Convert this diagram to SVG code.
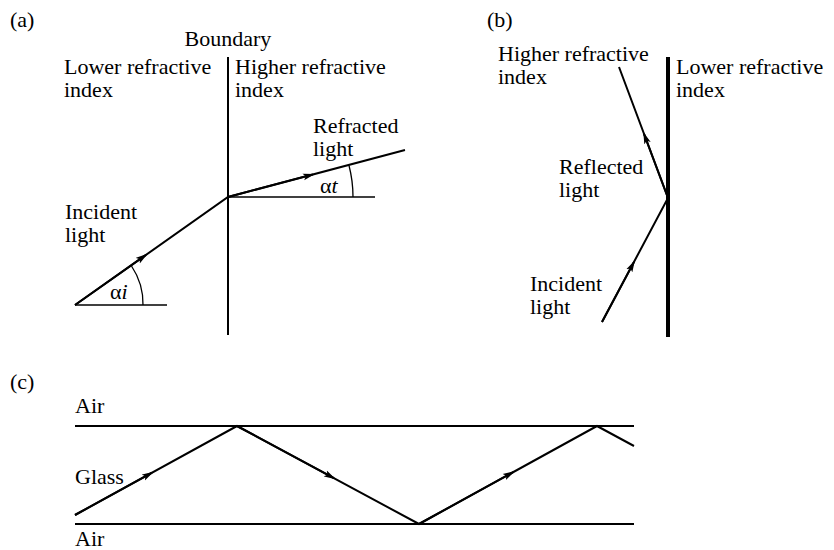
<svg xmlns="http://www.w3.org/2000/svg" width="834" height="550" viewBox="0 0 834 550">
<defs>
<marker id="ah" viewBox="0 0 12 8" refX="10" refY="4" markerWidth="12" markerHeight="8" markerUnits="userSpaceOnUse" orient="auto">
<path d="M0,0.6 L12,4 L0,7.4 L2.5,4 Z" fill="#000"/>
</marker>
<style>
text{font-family:"Liberation Serif","Times New Roman",serif;font-size:22px;fill:#000}
.ray{stroke:#000;stroke-width:2;fill:none}
.thin{stroke:#000;stroke-width:1.3;fill:none}
</style>
</defs>
<rect width="834" height="550" fill="#fff"/>
<g id="panel-a" font-family="Liberation Serif, serif">
<text x="10" y="27">(a)</text>
<text x="228" y="46" text-anchor="middle">Boundary</text>
<line class="ray" x1="228" y1="57" x2="228" y2="335"/>
<text x="64" y="74">Lower refractive</text>
<text x="64" y="97">index</text>
<text x="235" y="74">Higher refractive</text>
<text x="235" y="97">index</text>
<text x="65" y="219">Incident</text>
<text x="65" y="242">light</text>
<text x="313" y="133">Refracted</text>
<text x="313" y="156">light</text>
<line class="thin" x1="75" y1="305" x2="167" y2="305"/>
<line class="thin" x1="228" y1="197" x2="375" y2="197"/>
<path class="thin" d="M131.5,266 A68,68 0 0 1 143,305"/>
<path class="thin" d="M349,165.5 A125,125 0 0 1 353,197"/>
<text x="110" y="299">α<tspan font-style="italic">i</tspan></text>
<text x="320" y="193">α<tspan font-style="italic">t</tspan></text>
</g>
<g id="panel-b" font-family="Liberation Serif, serif">
<text x="487" y="27">(b)</text>
<line x1="668" y1="57" x2="668" y2="337" stroke="#000" stroke-width="4"/>
<text x="498" y="61">Higher refractive</text>
<text x="498" y="84">index</text>
<text x="676" y="74">Lower refractive</text>
<text x="676" y="97">index</text>
<text x="559" y="174">Reflected</text>
<text x="559" y="197">light</text>
<text x="530" y="291">Incident</text>
<text x="530" y="314">light</text>
</g>
<g id="panel-c" font-family="Liberation Serif, serif">
<text x="10" y="389">(c)</text>
<text x="75" y="413">Air</text>
<text x="75" y="484">Glass</text>
<text x="75" y="546">Air</text>
<line class="ray" x1="75" y1="426" x2="634" y2="426"/>
<line class="ray" x1="75" y1="524" x2="634" y2="524"/>
</g>
<g id="connectors">
<polyline class="ray" points="75,305 228,197 405,150"/>
<line class="ray" x1="75" y1="305" x2="146" y2="254.9" marker-end="url(#ah)"/>
<line class="ray" x1="228" y1="197" x2="313" y2="174.4" marker-end="url(#ah)"/>
<polyline class="ray" points="602,322 668,198 619,67"/>
<line class="ray" x1="602" y1="322" x2="634" y2="261.9" marker-end="url(#ah)"/>
<line class="ray" x1="668" y1="198" x2="644" y2="133.8" marker-end="url(#ah)"/>
<polyline class="ray" points="75,515 237,426 419,524 597,426 634,446"/>
<line class="ray" x1="75" y1="515" x2="152" y2="472.7" marker-end="url(#ah)"/>
<line class="ray" x1="237" y1="426" x2="334" y2="478.2" marker-end="url(#ah)"/>
<line class="ray" x1="419" y1="524" x2="513" y2="472.2" marker-end="url(#ah)"/>
</g>
</svg>
